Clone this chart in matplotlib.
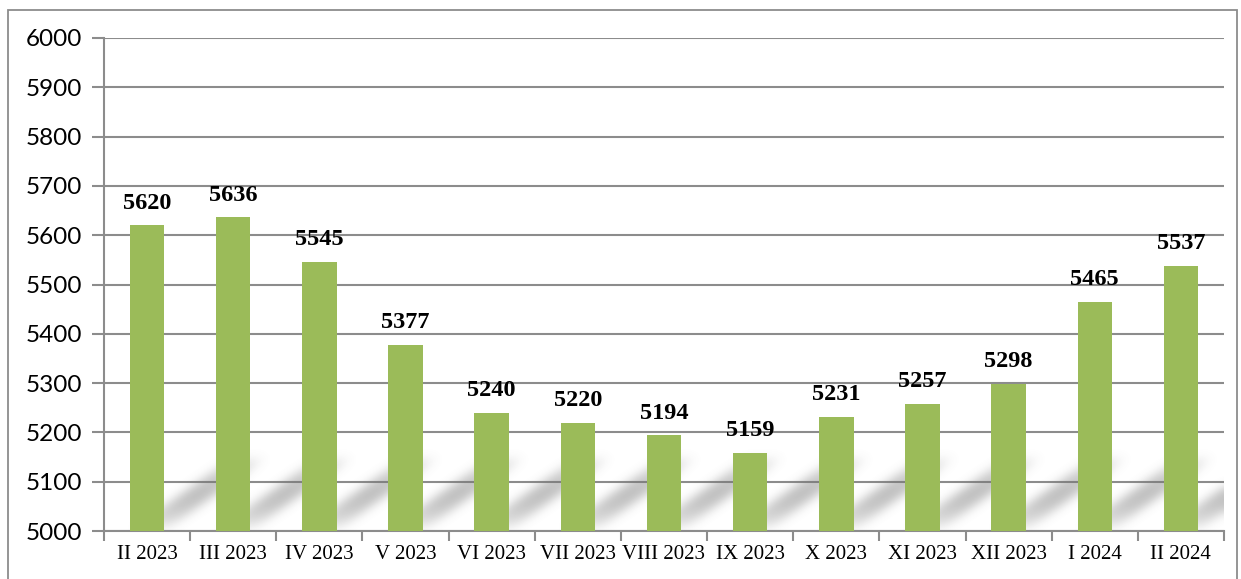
import matplotlib.pyplot as plt
import numpy as np
from matplotlib.patches import Rectangle

labels = ['II 2023', 'III 2023', 'IV 2023', 'V 2023', 'VI 2023', 'VII 2023', 'VIII 2023',
          'IX 2023', 'X 2023', 'XI 2023', 'XII 2023', 'I 2024', 'II 2024']
values = [5620, 5636, 5545, 5377, 5240, 5220, 5194, 5159, 5231, 5257, 5298, 5465, 5537]

bar_color = '#9bbb59'
grid_color = '#8c8c8c'

fig = plt.figure(figsize=(12.41, 5.79), dpi=100)
ax = fig.add_axes([104 / 1241, 48 / 579, 1120 / 1241, 493 / 579])

# outer frame of the chart
fig.patches.append(Rectangle((8 / 1241, -0.05), 1229 / 1241, 1.0 - 10 / 579 + 0.05,
                             transform=fig.transFigure, fill=False,
                             edgecolor='#8c8c8c', linewidth=1.3))

x = np.arange(len(values))
w = 0.4
ymin, ymax = 5000, 6000
xmin, xmax = -0.5, len(values) - 0.5

# soft diagonal shadows behind the bars, drawn as a blurred image
nx, ny = 1120, 493
gx = np.linspace(xmin, xmax, nx)
gy = np.linspace(ymin, ymax, ny)
X, Y = np.meshgrid(gx, gy)
dx, dy = 1.2, 150
t = (Y - ymin) / dy
shade = np.zeros_like(X)
for xi in x:
    u = (X - (xi - w / 2) - dx * t) / w
    m = (t >= 0) & (t <= 1) & (u >= 0) & (u <= 1)
    shade += np.where(m, np.sin(np.pi * np.clip(t, 0, 1)) ** 0.7, 0)

sig = 5
k = np.exp(-0.5 * (np.arange(-15, 16) / sig) ** 2)
k /= k.sum()
pad = np.pad(shade, 15, mode='edge')
tmp = sum(k[i] * pad[:, i:i + nx] for i in range(31))
shade = sum(k[i] * tmp[i:i + ny, :] for i in range(31))
rgba = np.zeros((ny, nx, 4))
rgba[..., :3] = 0.45
rgba[..., 3] = np.clip(shade * 0.45, 0, 1)
ax.imshow(rgba, extent=(xmin, xmax, ymin, ymax), origin='lower', aspect='auto',
          zorder=1, interpolation='bilinear')

ax.bar(x, np.array(values) - ymin, width=w, bottom=ymin, color=bar_color, zorder=3)

for xi, v in zip(x, values):
    ax.text(xi, v + 24, str(v), ha='center', va='bottom', fontsize=17.5, fontweight='bold',
            family='Liberation Serif', zorder=4)

ax.set_xlim(xmin, xmax)
ax.set_ylim(ymin, ymax)
ax.set_yticks(np.arange(5000, 6001, 100))
ax.grid(axis='y', color=grid_color, linewidth=1.5, zorder=0)
ax.set_axisbelow(True)

ax.set_xticks(x)
ax.set_xticklabels(labels, family='Liberation Serif', fontsize=15)
ax.set_xticks(np.arange(-0.5, len(values)), minor=True)
ax.tick_params(axis='x', which='major', length=0, pad=10)
ax.tick_params(axis='x', which='minor', length=7, color=grid_color, width=1.5)
ax.tick_params(axis='y', length=9, color=grid_color, width=1.5, pad=7)
for lab in ax.get_yticklabels():
    lab.set_family('Lato')
    lab.set_fontsize(17.5)

for sp in ['top', 'right']:
    ax.spines[sp].set_visible(False)
for sp in ['left', 'bottom']:
    ax.spines[sp].set_color(grid_color)
    ax.spines[sp].set_linewidth(1.5)

fig.savefig('out.png', dpi=100)
